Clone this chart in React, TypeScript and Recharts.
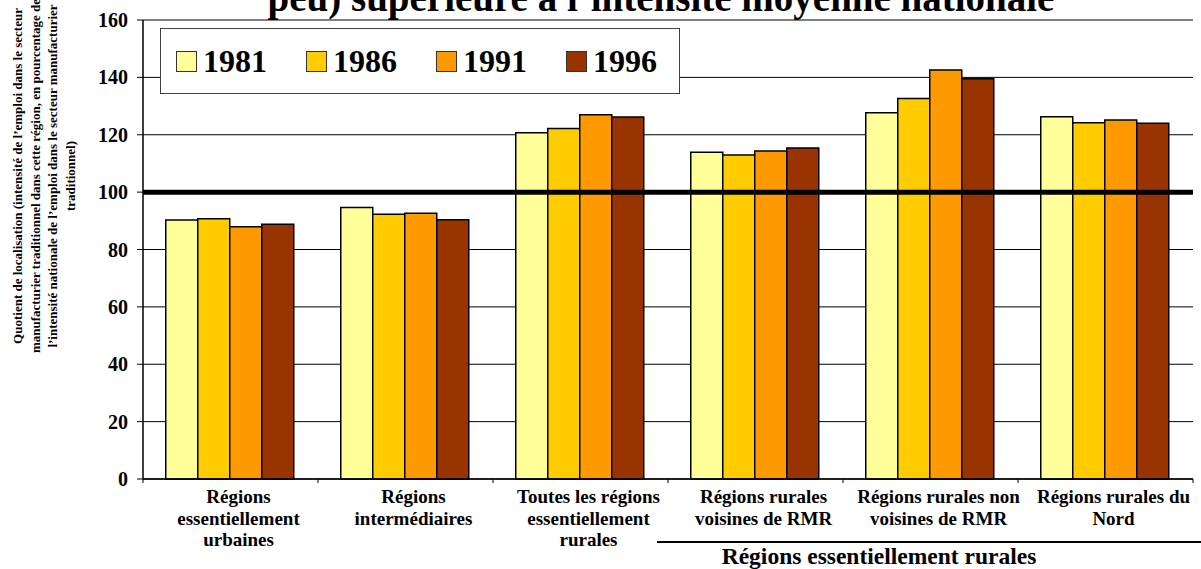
import React from 'react';
import { BarChart, Bar, XAxis, YAxis, CartesianGrid, ReferenceLine } from 'recharts';

const categories: string[][] = [
  ['Régions', 'essentiellement', 'urbaines'],
  ['Régions', 'intermédiaires'],
  ['Toutes les régions', 'essentiellement', 'rurales'],
  ['Régions rurales', 'voisines de RMR'],
  ['Régions rurales non', 'voisines de RMR'],
  ['Régions rurales du', 'Nord'],
];
const years = ['1981', '1986', '1991', '1996'];
const values1981 = [90.3, 94.6, 120.7, 113.9, 127.7, 126.3];
const values1986 = [90.7, 92.3, 122.2, 112.9, 132.6, 124.2];
const values1991 = [87.9, 92.6, 127.0, 114.3, 142.6, 125.1];
const values1996 = [88.8, 90.4, 126.2, 115.4, 139.5, 124.0];
const colors = ['#FFFF99', '#FFCC00', '#FF9900', '#993300'];
const yTicks = [0, 20, 40, 60, 80, 100, 120, 140, 160];
const referenceValue = 100;
const titleText = 'peu) supérieure à l’intensité moyenne nationale';
const yAxisTitle = [
  'Quotient de localisation (intensité  de l’emploi dans le secteur',
  'manufacturier traditionnel dans cette région, en pourcentage de',
  'l’intensité nationale de l’emploi dans le secteur manufacturier',
  'traditionnel)',
];
const groupLabel = 'Régions essentiellement rurales';

const seriesValues = [values1981, values1986, values1991, values1996];
const data = categories.map((c, i) => {
  const row: any = { name: c.join(' '), lines: c };
  years.forEach((y, k) => {
    row['y' + y] = seriesValues[k][i];
  });
  return row;
});

const FONT = "'Times New Roman', 'Liberation Serif', serif";

const CategoryTick = (props: any) => {
  const { x, y, payload, index } = props;
  const idx = payload.index ?? index;
  const lines: string[] = categories[idx] || [];
  const off = payload.offset ?? 87.5;
  const ay = y - 6;
  return (
    <g>
      <line x1={x - off} y1={ay} x2={x - off} y2={ay + 4} stroke="#000" strokeWidth={1} />
      {idx === categories.length - 1 && (
        <line x1={x + off} y1={ay} x2={x + off} y2={ay + 4} stroke="#000" strokeWidth={1} />
      )}
      <text x={x + 8} y={y} textAnchor="middle" fontFamily={FONT} fontWeight="bold" fontSize={19} fill="#000">
        {lines.map((l, i) => (
          <tspan key={i} x={x + 8} dy={i === 0 ? 18 : 21.5}>
            {l}
          </tspan>
        ))}
      </text>
    </g>
  );
};

export default function App() {
  return (
    <div style={{ position: 'absolute', left: 0, top: 0, width: 1201, height: 569, background: '#fff', overflow: 'hidden' }}>
      <BarChart
        width={1201}
        height={569}
        data={data}
        margin={{ top: 20, right: 8, bottom: 0, left: 83 }}
        barCategoryGap="13%"
        barGap={0}
      >
        <CartesianGrid horizontal vertical={false} stroke="#000" strokeWidth={1} />
        <XAxis
          dataKey="name"
          height={90}
          interval={0}
          tickLine={false}
          axisLine={{ stroke: '#000', strokeWidth: 1.5 }}
          tick={<CategoryTick />}
          tickMargin={0}
        />
        <YAxis
          width={60}
          domain={[0, 160]}
          ticks={yTicks}
          interval={0}
          tickSize={6}
          tickLine={{ stroke: '#000' }}
          axisLine={{ stroke: '#000', strokeWidth: 1.5 }}
          tick={{ fontFamily: FONT, fontWeight: 'bold', fontSize: 20, fill: '#000' }}
          tickMargin={9}
        />
        <YAxis
          yAxisId="r"
          orientation="right"
          width={0}
          domain={[0, 160]}
          tick={false}
          tickLine={false}
          axisLine={{ stroke: '#808080', strokeWidth: 2 }}
        />
        {years.map((yr, k) => (
          <Bar
            key={yr}
            dataKey={'y' + yr}
            name={yr}
            fill={colors[k]}
            stroke="#000"
            strokeWidth={1.5}
            isAnimationActive={false}
          />
        ))}
        <ReferenceLine y={160} stroke="#808080" strokeWidth={2} />
        <ReferenceLine y={referenceValue} stroke="#000" strokeWidth={5} />
      </BarChart>

      {/* Legend */}
      <div
        style={{
          position: 'absolute',
          left: 160,
          top: 28,
          width: 520,
          height: 66,
          boxSizing: 'border-box',
          border: '1.5px solid #404040',
          background: '#fff',
          display: 'flex',
          alignItems: 'center',
          paddingLeft: 15,
          fontFamily: FONT,
          fontWeight: 'bold',
          fontSize: 32,
        }}
      >
        {years.map((yr, k) => (
          <div key={yr} style={{ display: 'flex', alignItems: 'center', width: 130, flexShrink: 0 }}>
            <span
              style={{
                display: 'inline-block',
                width: 19,
                height: 19,
                background: colors[k],
                border: '1.5px solid #333',
                marginRight: 6,
              }}
            />
            <span>{yr}</span>
          </div>
        ))}
      </div>

      {/* Texts */}
      <svg width={1201} height={569} style={{ position: 'absolute', left: 0, top: 0, pointerEvents: 'none' }}>
        <text x={661} y={11} textAnchor="middle" fontFamily={FONT} fontWeight="bold" fontSize={39} fill="#000">
          {titleText}
        </text>
        <g transform="translate(0,176) rotate(-90)">
          {yAxisTitle.map((l, i) => (
            <text key={i} x={0} y={22 + i * 17.7} textAnchor="middle" fontFamily={FONT} fontWeight="bold" fontSize={13} fill="#000">
              {l}
            </text>
          ))}
        </g>
        <line x1={657} y1={542} x2={1201} y2={542} stroke="#000" strokeWidth={2} />
        <text x={879} y={564} textAnchor="middle" fontFamily={FONT} fontWeight="bold" fontSize={23.5} fill="#000">
          {groupLabel}
        </text>
      </svg>
    </div>
  );
}
